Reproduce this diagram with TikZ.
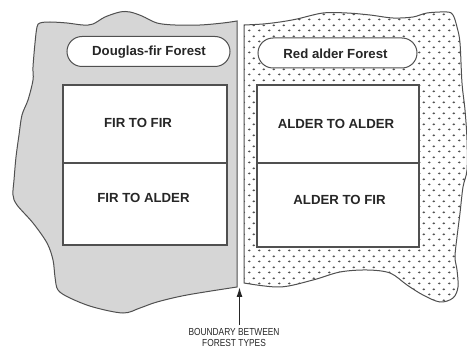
\documentclass[tikz,border=0pt]{standalone}
\usepackage{fontspec}
\setmainfont{Liberation Sans}
\newfontfamily\narrowfont[FakeStretch=0.82]{Liberation Sans}
\usetikzlibrary{arrows.meta,patterns}
\pgfdeclarepatternformonly{forestdots}{\pgfqpoint{0pt}{0pt}}{\pgfqpoint{9.5pt}{10.6pt}}{\pgfqpoint{9.5pt}{10.6pt}}{%
  \pgfpathellipse{\pgfqpoint{2.4pt}{2.65pt}}{\pgfqpoint{1.45pt}{0pt}}{\pgfqpoint{0pt}{1.05pt}}%
  \pgfpathellipse{\pgfqpoint{7.15pt}{7.95pt}}{\pgfqpoint{1.45pt}{0pt}}{\pgfqpoint{0pt}{1.05pt}}%
  \pgfusepath{fill}}
\definecolor{edge}{RGB}{80,80,80}
\definecolor{firgray}{RGB}{214,214,214}
\tikzset{
  outline/.style={draw=edge, line width=1pt},
  cellbox/.style={draw=edge, line width=1.1pt, fill=white, minimum width=#1, inner sep=0pt},
  pill/.style={draw=edge, line width=1pt, fill=white, rounded corners=15pt, minimum height=30pt, inner sep=0pt},
  celltext/.style={font=\bfseries\fontsize{13.2}{15}\selectfont, text=black!85},
  pilltext/.style={font=\bfseries\fontsize{13.2}{15}\selectfont, text=black!85},
}
\begin{document}
\begin{tikzpicture}[x=1pt,y=-1pt]
\useasboundingbox (0,0) rectangle (467,350);
% Douglas-fir forest area
\path[outline, fill=firgray] plot[smooth, tension=0.55] coordinates {
 (237,21) (223,23) (200,25) (175,25) (157,23) (142,16) (130,12) (120,12) (105,17) (93,24)
 (83,25) (67,23) (50,22) (40,23) (37,27) (35,43) (33,67) (33,80) (28,100) (22,115)
 (19,135) (16,157) (14,180) (13,195) (17,205) (33,223) (47,243) (53,260) (55,277)
 (58,290) (70,298) (93,307) (123,313) (140,308) (157,302) (187,295) (237,287)} -- cycle;
% Red alder forest area
\path[outline, pattern=forestdots, pattern color=black!68] (244,283) -- (244,25) plot[smooth, tension=0.55] coordinates {
 (244,25) (263,24) (280,22) (297,19) (323,13) (347,13) (370,15) (393,18) (413,17) (427,13)
 (447,12) (453,15) (457,27) (460,43) (462,83) (465,110) (467,140) (467,170) (463,187)
 (460,213) (457,237) (455,257) (457,270) (458,287) (453,298) (440,302) (423,295) (407,285)
 (390,273) (367,270) (340,272) (313,280) (280,287) (244,283)} -- cycle;
% titles
\node[pill, minimum width=163pt] (dfp) at (148.5,51.5) {};
\node[pilltext] (dft) at (149,52) {Douglas-fir Forest};
\node[pill, minimum width=159pt] (rap) at (337.5,53) {};
\node[pilltext] (rat) at (335.5,54) {Red alder Forest};
% left cells
\node[cellbox=164pt, minimum height=78pt] (ff) at (145,124) {};
\node[cellbox=164pt, minimum height=82pt] (fa) at (145,204) {};
\node[celltext] (fft) at (138,123) {FIR TO FIR};
\node[celltext] (fat) at (143.5,198) {FIR TO ALDER};
% right cells
\node[cellbox=162pt, minimum height=78pt] (aa) at (338,124) {};
\node[cellbox=162pt, minimum height=84pt] (af) at (338,205) {};
\node[celltext] (aat) at (336,124) {ALDER TO ALDER};
\node[celltext] (aft) at (339.5,200) {ALDER TO FIR};
% boundary label and arrow
\coordinate (tip) at (239.5,287);
\node[font=\narrowfont\fontsize{10.2}{11}\selectfont, align=center, inner sep=1pt, text=black!85] (lbl) at (234,337.5) {BOUNDARY BETWEEN\\FOREST TYPES};
\draw[line width=1.3pt, draw=black!85, -{Latex[length=10pt,width=6pt]}] (tip |- lbl.north) ++(0,-2) -- (tip);
\end{tikzpicture}
\end{document}
